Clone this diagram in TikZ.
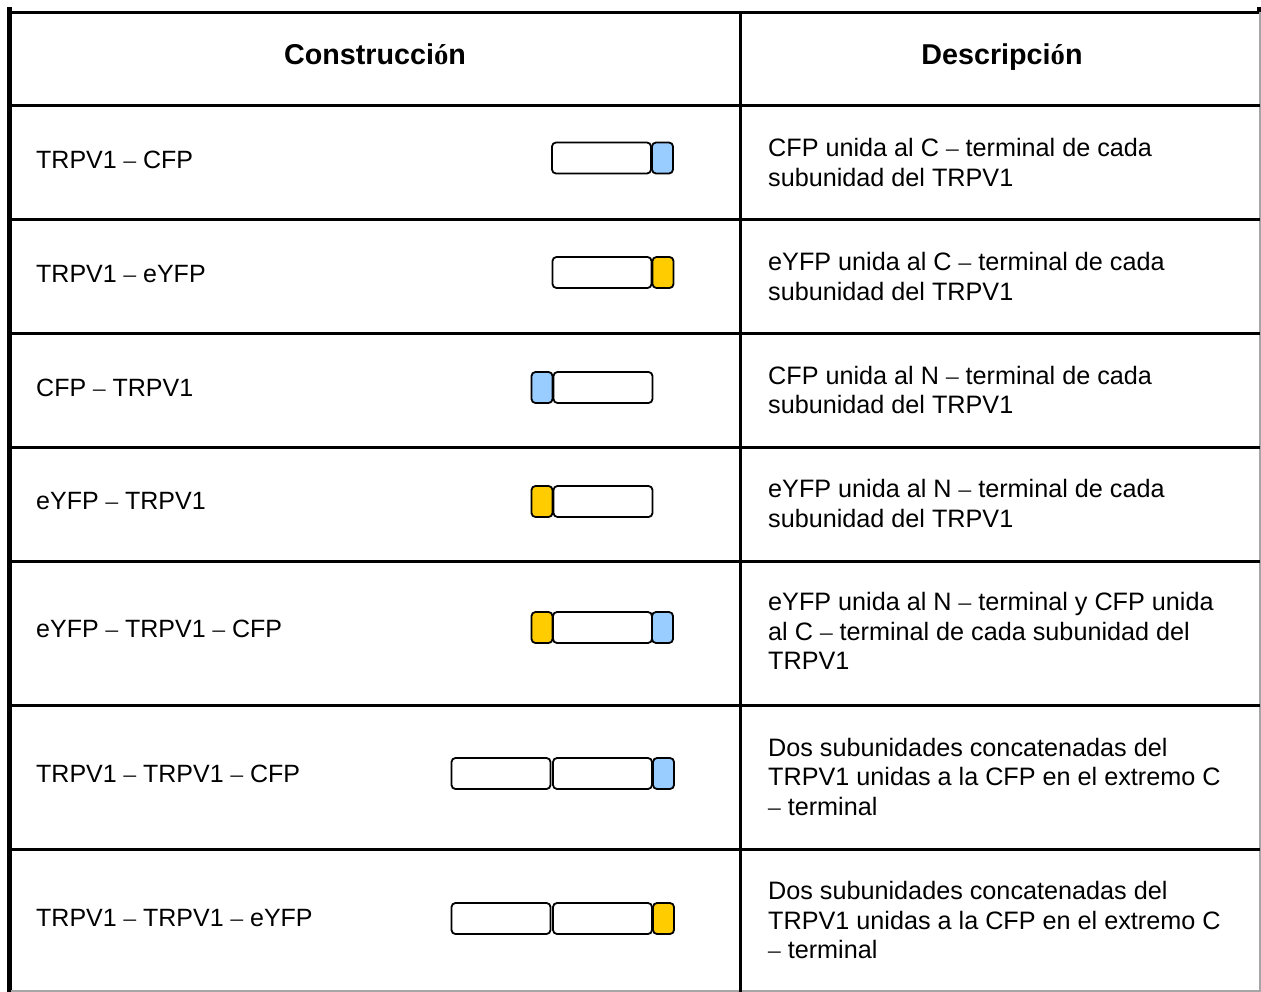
\documentclass[tikz,border=0pt]{standalone}
\usepackage{fontspec}
\setmainfont{Liberation Sans}
\newfontfamily\serifpart{Liberation Serif}
\newcommand{\dd}{{\serifpart –}}
\definecolor{cfpblue}{HTML}{99CCFF}
\definecolor{yfpyellow}{HTML}{FFCC00}
\begin{document}
\begin{tikzpicture}[x=1pt,y=-1pt,
  grid/.style={line width=3pt,black},
  seg/.style={draw=black,line width=1.8pt,rounded corners=4pt,minimum height=31pt,inner sep=0pt},
  trp/.style={seg,fill=white,minimum width=99pt},
  cfp/.style={seg,fill=cfpblue,minimum width=21pt},
  yfp/.style={seg,fill=yfpyellow,minimum width=21pt},
  lab/.style={anchor=west,inner sep=0pt,font=\fontsize{25}{29.5}\selectfont},
  desc/.style={anchor=west,inner sep=0pt,align=left,font=\fontsize{25.2}{29.5}\selectfont},
  head/.style={anchor=base,inner sep=0pt,font=\fontsize{28.7}{32}\selectfont\bfseries}]
\useasboundingbox (0,0) rectangle (1261,992);
% table lines
\draw[line width=5pt] (9,7) -- (9,992);
\draw[grid] (9,12.5) -- (1259,12.5);
\fill (1257,7) rectangle (1261,12);
\draw[line width=1.5pt,gray!70] (1260,12) -- (1260,992);
\draw[line width=2pt,gray!70] (11,991) -- (1261,991);
\draw[grid] (740.5,12) -- (740.5,992);
\foreach \yy in {106,219.5,333.5,447,561,705,849}
  \draw[grid] (11,\yy) -- (1260,\yy);
% header
\node[head] (h1) at (375,65) {Construcci{\serifpart ó}n};
\node[head] (h2) at (1002,65) {Descripci{\serifpart ó}n};
% row 1
\node[lab] (l1) at (36,159.5) {TRPV1 \dd{} CFP};
\node[trp] (b1a) at (601.5,158) {};
\node[cfp] (b1b) at (662.5,158) {};
\node[desc] (d1) at (768,162.5) {CFP unida al C \dd{} terminal de cada\\subunidad del TRPV1};
% row 2
\node[lab] (l2) at (36,274) {TRPV1 \dd{} eYFP};
\node[trp] (b2a) at (602,272.5) {};
\node[yfp] (b2b) at (663,272.5) {};
\node[desc] (d2) at (768,276.5) {eYFP unida al C \dd{} terminal de cada\\subunidad del TRPV1};
% row 3
\node[lab] (l3) at (36,387.5) {CFP \dd{} TRPV1};
\node[cfp] (b3a) at (542,387.5) {};
\node[trp] (b3b) at (603,387.5) {};
\node[desc] (d3) at (768,390) {CFP unida al N \dd{} terminal de cada\\subunidad del TRPV1};
% row 4
\node[lab] (l4) at (36,501.5) {eYFP \dd{} TRPV1};
\node[yfp] (b4a) at (542,501.5) {};
\node[trp] (b4b) at (603,501.5) {};
\node[desc] (d4) at (768,503.5) {eYFP unida al N \dd{} terminal de cada\\subunidad del TRPV1};
% row 5
\node[lab] (l5) at (36,629) {eYFP \dd{} TRPV1 \dd{} CFP};
\node[yfp] (b5a) at (542,627.5) {};
\node[trp] (b5b) at (602.5,627.5) {};
\node[cfp] (b5c) at (662.5,627.5) {};
\node[desc] (d5) at (768,631) {eYFP unida al N \dd{} terminal y CFP unida\\al C \dd{} terminal de cada subunidad del\\TRPV1};
% row 6
\node[lab] (l6) at (36,773.5) {TRPV1 \dd{} TRPV1 \dd{} CFP};
\node[trp] (b6a) at (501,773.5) {};
\node[trp] (b6b) at (602.5,773.5) {};
\node[cfp] (b6c) at (663.5,773.5) {};
\node[desc] (d6) at (768,776.5) {Dos subunidades concatenadas del\\TRPV1 unidas a la CFP en el extremo C\\\dd{} terminal};
% row 7
\node[lab] (l7) at (36,918.5) {TRPV1 \dd{} TRPV1 \dd{} eYFP};
\node[trp] (b7a) at (501,918.5) {};
\node[trp] (b7b) at (602.5,918.5) {};
\node[yfp] (b7c) at (663.5,918.5) {};
\node[desc] (d7) at (768,920) {Dos subunidades concatenadas del\\TRPV1 unidas a la CFP en el extremo C\\\dd{} terminal};
\end{tikzpicture}
\end{document}
